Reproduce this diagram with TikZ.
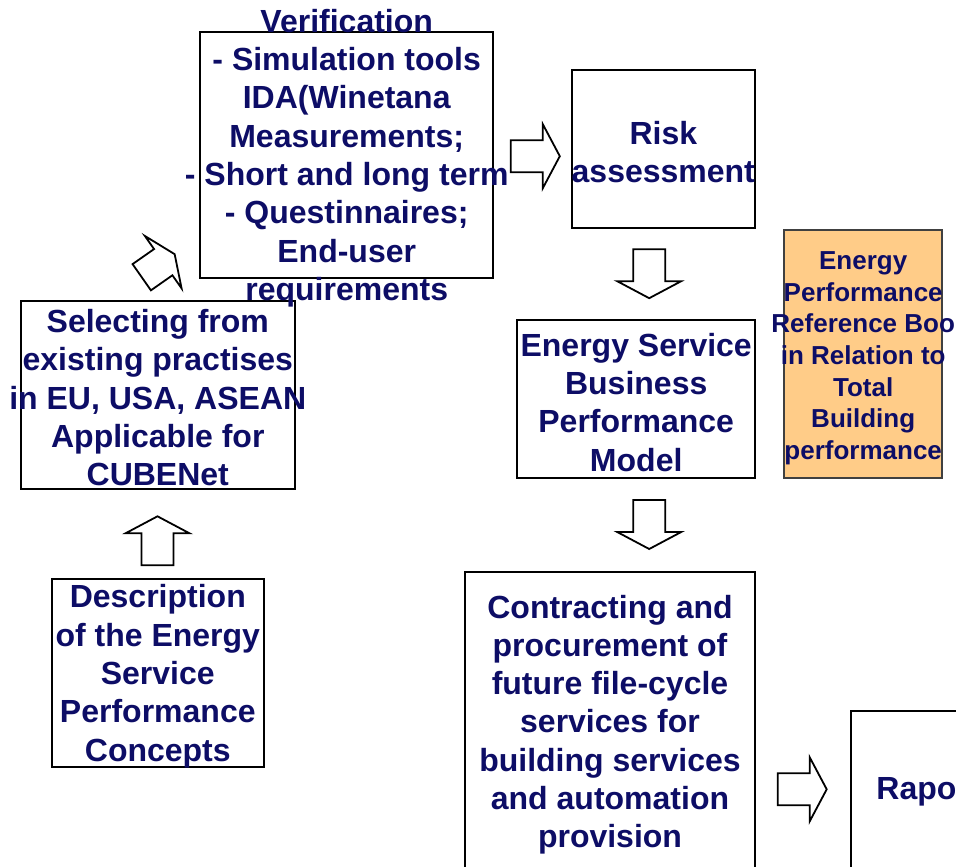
\documentclass[tikz,border=0pt]{standalone}
\usepackage{fontspec}
\setmainfont{Liberation Sans}
\usepackage{tikz}
\usetikzlibrary{shapes}
\usepackage{xcolor}
\definecolor{navytext}{RGB}{13,13,102}
\definecolor{bookfill}{RGB}{255,204,136}
\definecolor{bookline}{RGB}{64,64,64}

\tikzset{
  box/.style={draw, line width=1pt, inner sep=0pt},
  txt/.style={align=center, text=navytext, inner sep=0pt, yshift=-1.5pt, font=\bfseries\fontsize{16}{19.15}\selectfont},
  smalltxt/.style={txt, yshift=-0.5pt, font=\bfseries\fontsize{13}{15.85}\selectfont},
  blockarrow/.pic={
    \draw[line width=0.9pt, fill=white] (-24.5,-16) -- (7.5,-16) -- (7.5,-32) -- (24.5,0)
      -- (7.5,32) -- (7.5,16) -- (-24.5,16) -- cycle;
  }
}

\begin{document}
\begin{tikzpicture}[x=0.5pt, y=-0.5pt]
    \useasboundingbox (0,0) rectangle (956,866);
    \clip (0,0) rectangle (956,866);
    % boxes
    \node[box, minimum width=146.7pt, minimum height=123.3pt] (verif) at (346.7,155) {};
    \node[box, minimum width=91.7pt, minimum height=79pt] (risk) at (663.3,149) {};
    \node[box, minimum width=118.8pt, minimum height=79.2pt] (esb) at (636.2,399.2) {};
    \node[box, draw=bookline, fill=bookfill, minimum width=79.2pt, minimum height=124.2pt] (book) at (863.2,354.2) {};
    \node[box, minimum width=145pt, minimum height=150pt] (contract) at (610,721.7) {};
    \node[box, minimum width=80.7pt, minimum height=81pt] (rapo) at (931.4,791.7) {};
    \node[box, minimum width=137.2pt, minimum height=94.2pt] (select) at (157.8,394.8) {};
    \node[box, minimum width=106.2pt, minimum height=94.2pt] (descr) at (157.8,673.2) {};
    % texts
    \node[txt] (verif-t) at (verif) {Verification\\- Simulation tools\\IDA(Winetana\\Measurements;\\- Short and long term\\- Questinnaires;\\End-user\\requirements};
    \node[txt] (risk-t) at (risk) {Risk\\assessment};
    \node[txt] (esb-t) at (esb) {Energy Service\\Business\\Performance\\Model};
    \node[smalltxt] (book-t) at (book) {Energy\\Performance\\Reference Boo\\in Relation to\\Total\\Building\\performance};
    \node[txt] (contract-t) at (contract) {Contracting and\\procurement of\\future file-cycle\\services for\\building services\\and automation\\provision};
    \node[txt, anchor=west] (rapo-t) at (876,789) {Rapo};
    \node[txt] (select-t) at (select) {Selecting from\\existing practises\\in EU, USA, ASEAN\\Applicable for\\CUBENet};
    \node[txt] (descr-t) at (descr) {Description\\of the Energy\\Service\\Performance\\Concepts};
    % block arrows
    \pic at (535.3,156.2) {blockarrow};
    \pic[rotate=-90] at (649.2,273.7) {blockarrow};
    \pic[rotate=-90] at (649.2,524.5) {blockarrow};
    \pic at (802.2,789.3) {blockarrow};
    \pic[rotate=90] at (157.5,540.8) {blockarrow};
    \pic[rotate=35, xscale=0.82] at (158.2,265.7) {blockarrow};
\end{tikzpicture}
\end{document}
